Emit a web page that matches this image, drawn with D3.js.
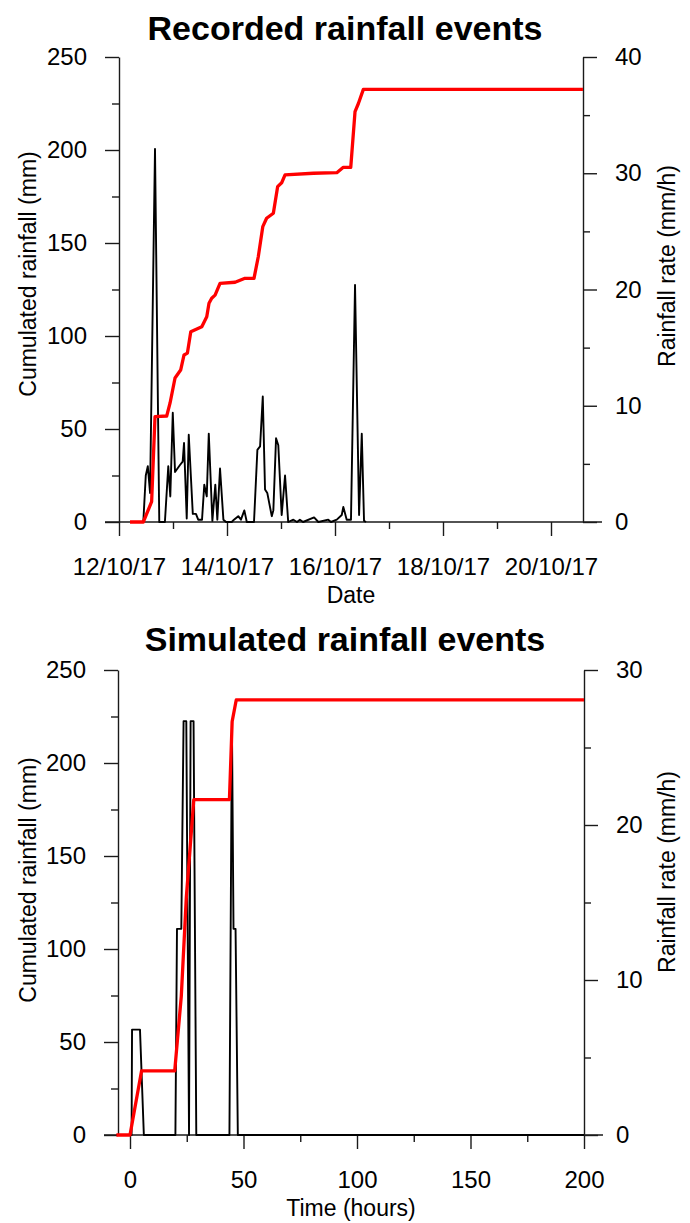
<!DOCTYPE html>
<html>
<head>
<meta charset="utf-8">
<script src="https://cdn.jsdelivr.net/npm/d3@7"></script>
<style>
  body { margin: 0; background: #fff; }
  svg text { font-family: "Liberation Sans", Arial, sans-serif; fill: #000; }
</style>
</head>
<body>
<svg id="chart" width="690" height="1223"></svg>
<script>
// ---- Recorded event (hours after 12/10/17 00:00) ----
const recRateHours = [4.9, 10.8, 11.9, 12.8, 13.8, 16.0, 17.9, 20.4, 21.9, 22.8, 23.9, 24.9, 27.1, 28.3, 28.9, 30.1, 31.0, 32.8, 34.2, 35.2, 36.9, 37.9, 39.0, 39.9, 41.5, 42.8, 43.7, 44.9, 46.4, 47.6, 50.1, 51.1, 53.0, 54.2, 55.7, 56.8, 60.0, 61.5, 62.7, 63.9, 64.9, 65.9, 67.9, 68.6, 69.8, 70.8, 72.3, 73.8, 75.2, 77.5, 79.1, 80.4, 81.8, 86.7, 88.6, 93.0, 94.2, 96.8, 99.0, 99.7, 101.2, 103.1, 104.9, 106.7, 107.9, 108.9, 109.8];
const recRate = [0, 0, 4.0, 4.8, 2.5, 32.1, 0, 0, 4.8, 2.2, 9.4, 4.3, 4.9, 5.2, 6.8, 0.3, 7.5, 0.7, 0.7, 0.2, 0.2, 3.2, 2.2, 7.6, 0.1, 3.2, 0.2, 4.6, 0.2, 0, 0, 0.2, 0.5, 0.2, 1.0, 0, 0, 6.2, 6.5, 10.8, 2.8, 2.5, 0.5, 1.0, 7.2, 6.6, 0.6, 4.0, 0, 0.2, 0, 0.2, 0, 0.4, 0, 0.2, 0, 0.2, 0.6, 1.3, 0.2, 0.2, 20.4, 0.6, 7.6, 0.1, 0];
const recCumHours = [4.9, 10.8, 14.5, 16.0, 21.2, 22.7, 24.9, 27.4, 28.9, 30.4, 31.9, 36.8, 39.0, 40.0, 41.2, 42.7, 44.9, 51.6, 56.0, 60.0, 61.9, 63.9, 65.6, 68.6, 70.5, 72.3, 73.8, 86.4, 96.8, 99.7, 103.0, 104.9, 106.4, 108.6, 206.2];
const recCum = [0, 0, 10.9, 56.6, 57, 64, 77.4, 81.7, 89.8, 90.8, 102.3, 105, 110.4, 117.6, 120.3, 122, 128.3, 128.9, 131, 131, 142.6, 158.8, 163.3, 166, 180.3, 182.4, 186.6, 187.5, 187.8, 190.7, 190.7, 220.6, 225, 232.6, 232.6];

// ---- Simulated event (hours) ----
const simRateHours = [-6, 0.7, 0.9, 4.4, 6.1, 20.0, 20.7, 22.6, 23.6, 24.8, 26.0, 26.7, 28.0, 29.2, 43.8, 44.9, 45.6, 46.5, 47.5, 200];
const simRate = [0, 0, 6.8, 6.8, 0, 0, 13.3, 13.3, 26.7, 26.7, 0, 26.7, 26.7, 0, 0, 26.7, 13.3, 13.3, 0, 0];
const simCumHours = [-6, 0, 5.1, 19.7, 22.6, 24.8, 28.1, 43.8, 45.0, 46.8, 200];
const simCum = [0, 0, 34.5, 34.5, 74.7, 127.5, 180.3, 180.3, 222.3, 233.9, 233.9];

// ---- Tick values ----
const cumTicks = [0, 50, 100, 150, 200, 250];
const cumMinorTicks = [25, 75, 125, 175, 225];
const recRateTicks = [0, 10, 20, 30, 40];
const recRateMinorTicks = [5, 15, 25, 35];
const simRateTicks = [0, 10, 20, 30];
const simRateMinorTicks = [5, 15, 25];
const dateTicks = ["2017-10-12", "2017-10-14", "2017-10-16", "2017-10-18", "2017-10-20"];
const dateMinorTicks = ["2017-10-13", "2017-10-15", "2017-10-17", "2017-10-19"];
const timeTicks = [0, 50, 100, 150, 200];
const timeMinorTicks = [25, 75, 125, 175];

const startDate = new Date(2017, 9, 12, 0, 0, 0);
const hoursToDate = h => new Date(startDate.getTime() + h * 3600e3);
const parseDay = s => { const [y, m, d] = s.split("-").map(Number); return new Date(y, m - 1, d); };
const fmtDate = d3.timeFormat("%d/%m/%y");

const svg = d3.select("#chart");
const FONT = "Liberation Sans, Arial, sans-serif";
const MAJOR = 14, MINOR = 7;

function styleAxis(g) {
  g.attr("font-family", FONT).attr("font-size", 24);
  g.selectAll("line, path").attr("stroke", "#1a1a1a").attr("stroke-width", 1.4);
  g.selectAll("text").attr("fill", "#000");
}

function drawPanel(o) {
  const g = svg.append("g");
  const { x, yL, yR, left, right, top, bottom } = o;

  // horizontal axis line, extending slightly past the vertical axes
  g.append("line")
    .attr("x1", left - 14).attr("x2", right + 19)
    .attr("y1", bottom).attr("y2", bottom)
    .attr("stroke", "#1a1a1a").attr("stroke-width", 1.4);

  // bottom ticks
  const xMaj = g.append("g").attr("transform", `translate(0,${bottom})`)
    .call(d3.axisBottom(x).tickValues(o.xTicks).tickSize(MAJOR).tickPadding(22).tickFormat(o.xFormat));
  xMaj.select(".domain").remove();
  styleAxis(xMaj);
  const xMin = g.append("g").attr("transform", `translate(0,${bottom})`)
    .call(d3.axisBottom(x).tickValues(o.xMinor).tickSize(MINOR).tickFormat(""));
  xMin.select(".domain").remove();
  styleAxis(xMin);

  // left axis (cumulated rainfall)
  const yLMaj = g.append("g").attr("transform", `translate(${left},0)`)
    .call(d3.axisLeft(yL).tickValues(cumTicks).tickSize(MAJOR).tickSizeOuter(0).tickPadding(18).tickFormat(d3.format("d")));
  styleAxis(yLMaj);
  const yLMin = g.append("g").attr("transform", `translate(${left},0)`)
    .call(d3.axisLeft(yL).tickValues(cumMinorTicks).tickSize(MINOR).tickFormat(""));
  yLMin.select(".domain").remove();
  styleAxis(yLMin);

  // right axis (rainfall rate)
  const yRMaj = g.append("g").attr("transform", `translate(${right},0)`)
    .call(d3.axisRight(yR).tickValues(o.rateTicks).tickSize(MAJOR).tickSizeOuter(0).tickPadding(18).tickFormat(d3.format("d")));
  styleAxis(yRMaj);
  const yRMin = g.append("g").attr("transform", `translate(${right},0)`)
    .call(d3.axisRight(yR).tickValues(o.rateMinor).tickSize(MINOR).tickFormat(""));
  yRMin.select(".domain").remove();
  styleAxis(yRMin);

  // rainfall rate (black) and cumulated rainfall (red)
  const rateLine = d3.line().x(d => x(d[0])).y(d => yR(d[1]));
  const cumLine = d3.line().x(d => x(d[0])).y(d => yL(d[1]));
  g.append("path").datum(o.rate).attr("d", rateLine)
    .attr("fill", "none").attr("stroke", "#000").attr("stroke-width", 1.9).attr("stroke-linejoin", "round");
  g.append("path").datum(o.cum).attr("d", cumLine)
    .attr("fill", "none").attr("stroke", "#ff0000").attr("stroke-width", 3.3).attr("stroke-linejoin", "round");

  // titles
  g.append("text").attr("x", 345).attr("y", o.titleY)
    .attr("text-anchor", "middle").attr("font-size", 34).attr("font-weight", "bold")
    .text(o.title);
  g.append("text").attr("x", (left + right) / 2).attr("y", bottom + 73)
    .attr("text-anchor", "middle").attr("dominant-baseline", "central").attr("font-size", 23)
    .text(o.xLabel);
  g.append("text").attr("transform", `translate(28,${o.leftLabelY}) rotate(-90)`)
    .attr("text-anchor", "middle").attr("dominant-baseline", "central").attr("font-size", 23)
    .text("Cumulated rainfall (mm)");
  g.append("text").attr("transform", `translate(667,${o.rightLabelY}) rotate(-90)`)
    .attr("text-anchor", "middle").attr("dominant-baseline", "central").attr("font-size", 23)
    .text("Rainfall rate (mm/h)");
}

// ---- Recorded rainfall panel ----
{
  const left = 119, right = 583, top = 57, bottom = 522;
  const x = d3.scaleTime().domain([parseDay("2017-10-12"), parseDay("2017-10-20")]).range([left, 551]);
  const yL = d3.scaleLinear().domain([0, 250]).range([bottom, top]);
  const yR = d3.scaleLinear().domain([0, 40]).range([bottom, top]);
  drawPanel({
    x, yL, yR, left, right, top, bottom,
    xTicks: dateTicks.map(parseDay), xMinor: dateMinorTicks.map(parseDay), xFormat: fmtDate,
    rateTicks: recRateTicks, rateMinor: recRateMinorTicks,
    rate: recRateHours.map((h, i) => [hoursToDate(h), recRate[i]]),
    cum: recCumHours.map((h, i) => [hoursToDate(h), recCum[i]]),
    title: "Recorded rainfall events", titleY: 40, xLabel: "Date",
    leftLabelY: 274, rightLabelY: 266
  });
}

// ---- Simulated rainfall panel ----
{
  const left = 118, right = 584, top = 670, bottom = 1135;
  const x = d3.scaleLinear().domain([0, 200]).range([130, right]);
  const yL = d3.scaleLinear().domain([0, 250]).range([bottom, top]);
  const yR = d3.scaleLinear().domain([0, 30]).range([bottom, top]);
  drawPanel({
    x, yL, yR, left, right, top, bottom,
    xTicks: timeTicks, xMinor: timeMinorTicks, xFormat: d3.format("d"),
    rateTicks: simRateTicks, rateMinor: simRateMinorTicks,
    rate: simRateHours.map((h, i) => [h, simRate[i]]),
    cum: simCumHours.map((h, i) => [h, simCum[i]]),
    title: "Simulated rainfall events", titleY: 651, xLabel: "Time (hours)",
    leftLabelY: 880, rightLabelY: 872
  });
}
</script>
</body>
</html>
